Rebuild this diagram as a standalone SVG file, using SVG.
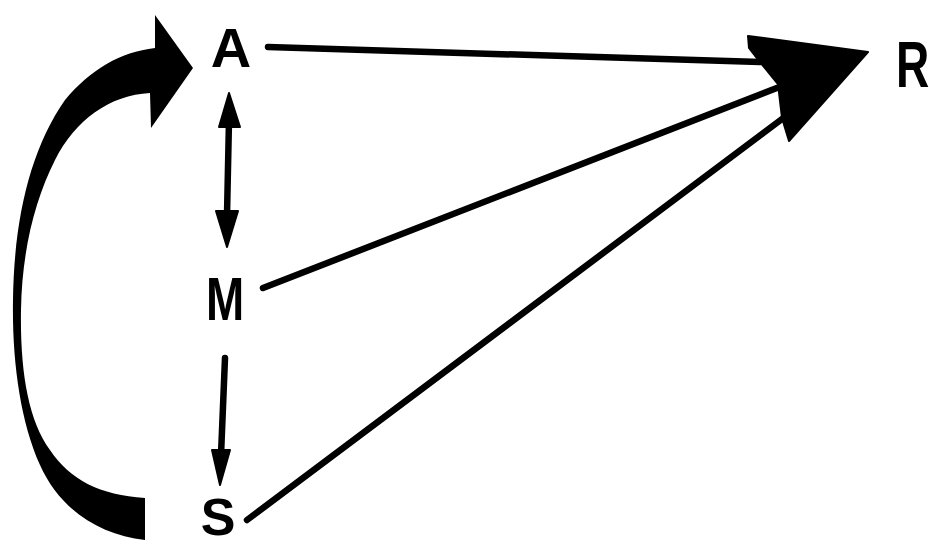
<svg xmlns="http://www.w3.org/2000/svg" width="929" height="546" viewBox="0 0 929 546">
<style>
.lbl{font-family:"Liberation Sans",Arial,sans-serif;font-weight:bold;fill:#000;text-anchor:middle}
.ln{stroke:#000;stroke-width:6.5;stroke-linecap:round;fill:none}
.hd{fill:#000;stroke:#000;stroke-width:2;stroke-linejoin:round}
</style>
<rect width="929" height="546" fill="#fff"/>
<g id="node-A"><text class="lbl" x="231" y="67" font-size="56">A</text></g>
<g id="node-M"><text class="lbl" transform="translate(225,320) scale(0.74,1)" x="0" y="0" font-size="62">M</text></g>
<g id="node-S"><text class="lbl" x="218" y="535" font-size="52">S</text></g>
<g id="node-R"><text class="lbl" transform="translate(896,87) scale(0.72,1)" x="0" y="0" font-size="64" style="text-anchor:start">R</text></g>
<g id="connectors">
  <line class="ln" x1="268" y1="47" x2="760" y2="62"/>
  <line class="ln" x1="263" y1="288" x2="782" y2="86"/>
  <line class="ln" x1="247" y1="520" x2="786" y2="116"/>
  <polygon class="hd" points="748,36 868,52 789,141 782,118 778,84 760,62 749,48"/>
  <line class="ln" x1="229" y1="120" x2="227" y2="215"/>
  <polygon class="hd" points="229,93 240,127 219,127"/>
  <polygon class="hd" points="227,247 216,211 238,211"/>
  <line class="ln" x1="225" y1="358" x2="221" y2="455"/>
  <polygon class="hd" points="220,485 212,450 230,450"/>
  <path fill="#000" d="M145,498 L145,540 C100,535 60,510 40,465 C20,420 12,360 13,300 C14,220 30,150 65,100 C90,70 120,52 155,48 L155,15 L193,68 L151,128 L150,93 C110,95 75,120 55,160 C35,200 22,250 21,310 C20,370 28,420 50,450 C70,480 100,495 145,498 Z"/>
</g>
</svg>
